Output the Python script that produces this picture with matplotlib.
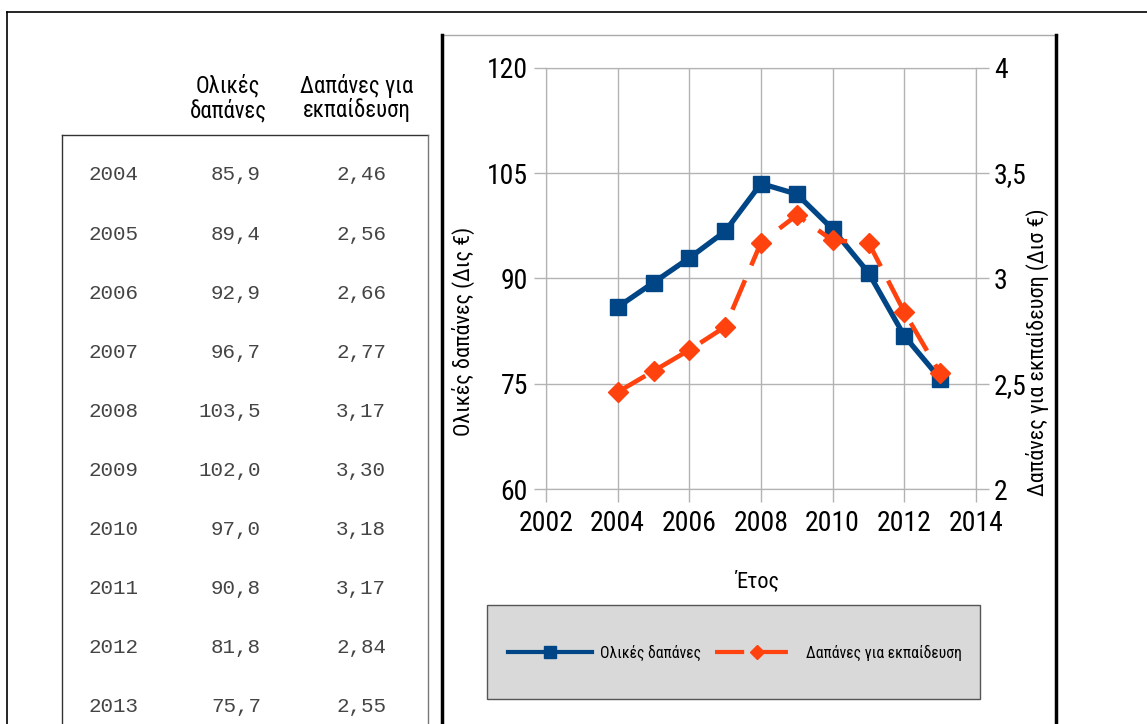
import matplotlib
matplotlib.use('Agg')
import matplotlib.pyplot as plt
from matplotlib.patches import Rectangle
from matplotlib.lines import Line2D

years = [2004, 2005, 2006, 2007, 2008, 2009, 2010, 2011, 2012, 2013]
total = [85.9, 89.4, 92.9, 96.7, 103.5, 102.0, 97.0, 90.8, 81.8, 75.7]
education = [2.46, 2.56, 2.66, 2.77, 3.17, 3.30, 3.18, 3.17, 2.84, 2.55]
total_label = 'Ολικές δαπάνες'
edu_label = 'Δαπάνες για εκπαίδευση'
left_label = 'Ολικές δαπάνες (Δις €)'
right_label = 'Δαπάνες για εκπαίδευση (Δισ €)'
x_label = 'Έτος'

W, H = 1147, 724
plt.rcParams['font.family'] = ['Roboto Condensed', 'Fira Sans Condensed',
                               'Open Sans Condensed', 'DejaVu Sans']

fig = plt.figure(figsize=(W / 100, H / 100), dpi=100)

def fx(x):
    return x / W

def fy(y):
    return 1 - y / H

def hline(x0, x1, y, **kw):
    fig.add_artist(Line2D([fx(x0), fx(x1)], [fy(y), fy(y)], **kw))

def vline(x, y0, y1, **kw):
    fig.add_artist(Line2D([fx(x), fx(x)], [fy(y0), fy(y1)], **kw))

# outer frame
hline(7, W, 12, color='black', lw=1.2)
vline(7, 12, H, color='black', lw=1.2)

# table
hline(62, 428, 135, color='#333333', lw=1)
vline(62, 135, H, color='#333333', lw=1)
vline(428, 135, H, color='#777777', lw=1)
fig.text(fx(228), fy(98), 'Ολικές\nδαπάνες', ha='center', va='center',
         fontsize=16.5, linespacing=1.05)
fig.text(fx(357), fy(98), 'Δαπάνες για\nεκπαίδευση', ha='center', va='center',
         fontsize=16.5, linespacing=1.05)
for i, yr in enumerate(years):
    yy = 175 + i * 59.1
    kw = dict(va='center', fontsize=15, family='Liberation Mono', color='#444444')
    fig.text(fx(88), fy(yy), str(yr), ha='left', **kw)
    fig.text(fx(261), fy(yy), f'{total[i]:.1f}'.replace('.', ','), ha='right', **kw)
    fig.text(fx(386), fy(yy), f'{education[i]:.2f}'.replace('.', ','), ha='right', **kw)

# chart panel
hline(441, 1057, 35, color='#aaaaaa', lw=1)
vline(442, 35, H, color='black', lw=2.5)
vline(1056, 35, H, color='black', lw=2.5)

ax = fig.add_axes([fx(546), fy(489), fx(976) - fx(546), fy(67.7) - fy(489)])
ax2 = ax.twinx()

blue = '#004586'
orange = '#ff420e'
ax.plot(years, total, color=blue, lw=3.8, marker='s', markersize=12, zorder=5)
ax2.plot(years, education, color=orange, lw=3.3, dashes=(7, 3.5), marker='D',
         markersize=10, zorder=4)

ax.set_xlim(2002, 2014)
ax.set_ylim(60, 120)
ax2.set_ylim(2, 4)
ax.set_xticks(range(2002, 2015, 2))
ax.set_yticks(range(60, 121, 15))
ax2.set_yticks([2, 2.5, 3, 3.5, 4])
ax2.set_yticklabels(['2', '2,5', '3', '3,5', '4'])
ax.grid(True, color='#b3b3b3', lw=1)
for a in (ax, ax2):
    for s in a.spines.values():
        s.set_color('#b3b3b3')
    a.tick_params(colors='#b3b3b3', labelcolor='black', labelsize=20, length=9,
                  width=1, pad=4)
ax.tick_params(axis='x', pad=6)

fig.text(fx(463), fy(331), left_label, rotation=90, ha='center', va='center', fontsize=16)
fig.text(fx(1037), fy(352), right_label, rotation=90, ha='center', va='center', fontsize=16)
fig.text(fx(758), fy(581), x_label, ha='center', va='center', fontsize=16)

# legend
fig.add_artist(Rectangle((fx(487), fy(699)), fx(980) - fx(487), fy(605) - fy(699),
                         facecolor='#d9d9d9', edgecolor='#555555', lw=1))
h1 = Line2D([], [], color=blue, lw=3, marker='s', markersize=9)
h2 = Line2D([], [], color=orange, lw=3, dashes=(7, 3.5), marker='D', markersize=7)
fig.legend([h1, h2], [total_label, edu_label], loc='center',
           bbox_to_anchor=(fx(735), fy(653)), ncol=2, frameon=False,
           fontsize=11.3, handlelength=5.4, columnspacing=0.9, handletextpad=0.45)

fig.savefig('out.png', dpi=100)
